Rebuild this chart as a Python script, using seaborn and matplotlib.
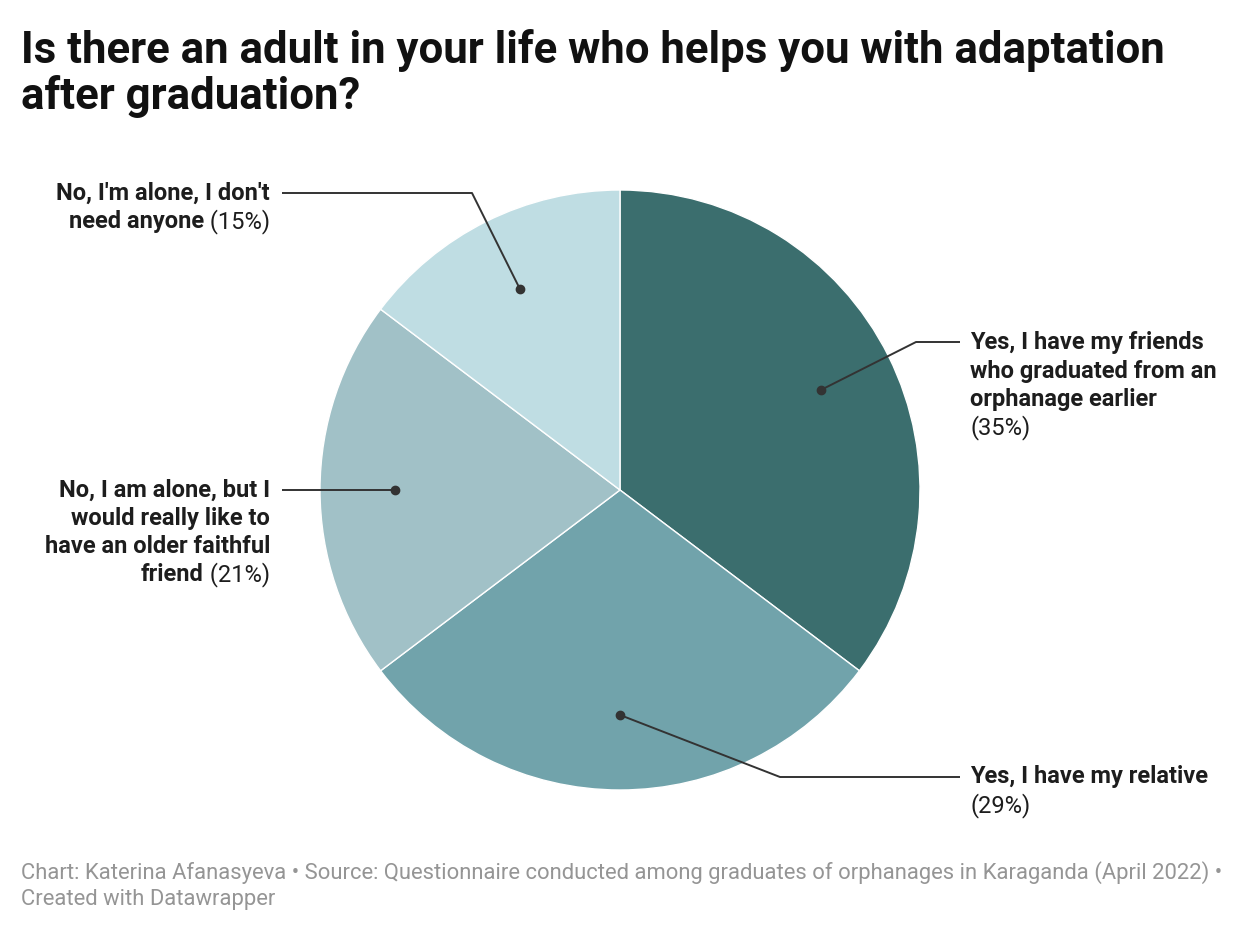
import matplotlib
matplotlib.use("Agg")
import matplotlib.pyplot as plt
import seaborn as sns
import numpy as np

# ---- data ----
categories = [
    "Yes, I have my friends who graduated from an orphanage earlier",
    "Yes, I have my relative",
    "No, I am alone, but I would really like to have an older faithful friend",
    "No, I'm alone, I don't need anyone",
]
counts = [12, 10, 7, 5]
pct_labels = ["(35%)", "(29%)", "(21%)", "(15%)"]
colors = ["#3b6e6e", "#71a3ab", "#a1c1c7", "#bfdde3"]

title_lines = ["Is there an adult in your life who helps you with adaptation",
               "after graduation?"]
footer1 = "Chart: Katerina Afanasyeva \u2022 Source: Questionnaire conducted among graduates of orphanages in Karaganda (April 2022) \u2022"
footer2 = "Created with Datawrapper"

sns.set_theme(style="white")
plt.rcParams["font.family"] = ["Roboto", "DejaVu Sans"]

W, H = 1240, 932
fig = plt.figure(figsize=(W / 100, H / 100), dpi=100)
ax = fig.add_axes([0, 0, 1, 1])

cx, cy, R = 620, 490, 300
wedges, _ = ax.pie(counts, colors=colors, startangle=-90, counterclock=True,
                   center=(cx, cy), radius=R,
                   wedgeprops=dict(edgecolor="white", linewidth=1))
ax.set_xlim(0, W)
ax.set_ylim(H, 0)
ax.set_aspect("auto")
ax.axis("off")

# anchor dots at 0.75 R along mid angle
cum = np.cumsum([0] + counts)
tot = sum(counts)
dots = []
for i in range(len(counts)):
    mid = -90 + 360 * (cum[i] + cum[i + 1]) / 2 / tot
    t = np.deg2rad(mid)
    dots.append((cx + 0.75 * R * np.cos(t), cy + 0.75 * R * np.sin(t)))

line_c = "#333333"
txt_c = "#1d1d1d"
fs = 17
lh = 28.3

# leader line layouts (elbow, end)
leaders = [
    [(916, 342), (960, 342)],
    [(780, 777), (960, 777)],
    [(282, 490)],
    [(472, 193), (282, 193)],
]
for (dx, dy), pts in zip(dots, leaders):
    xs = [dx] + [p[0] for p in pts]
    ys = [dy] + [p[1] for p in pts]
    ax.plot(xs, ys, color=line_c, lw=1.4, solid_capstyle="butt")
    ax.plot(dx, dy, "o", color=line_c, ms=6)

fig.canvas.draw()
renderer = fig.canvas.get_renderer()

def text_width(s, weight):
    t = ax.text(0, 0, s, fontsize=fs, fontweight=weight)
    w = t.get_window_extent(renderer).width
    t.remove()
    return w

# right-side labels (left aligned)
right_lines = {
    0: (["Yes, I have my friends", "who graduated from an", "orphanage earlier"], 343),
    1: (["Yes, I have my relative"], 777),
}
for i, (lines, y0) in right_lines.items():
    for k, s in enumerate(lines):
        ax.text(970, y0 + k * lh, s, fontsize=fs, fontweight="bold", color=txt_c,
                ha="left", va="center")
    ax.text(970, y0 + len(lines) * lh, pct_labels[i], fontsize=fs, color=txt_c,
            ha="left", va="center")

# left-side labels (right aligned), percentage on last line
left_lines = {
    2: (["No, I am alone, but I", "would really like to", "have an older faithful", "friend"], 490),
    3: (["No, I'm alone, I don't", "need anyone"], 193),
}
xr = 270
for i, (lines, y0) in left_lines.items():
    for k, s in enumerate(lines):
        y = y0 + k * lh
        if k == len(lines) - 1:
            pw = text_width(" " + pct_labels[i], "normal")
            ax.text(xr, y, " " + pct_labels[i], fontsize=fs, color=txt_c,
                    ha="right", va="center")
            ax.text(xr - pw, y, s, fontsize=fs, fontweight="bold", color=txt_c,
                    ha="right", va="center")
        else:
            ax.text(xr, y, s, fontsize=fs, fontweight="bold", color=txt_c,
                    ha="right", va="center")

# title
for k, s in enumerate(title_lines):
    fig.text(21 / W, 1 - (63 + 46 * k) / H, s, fontsize=31.5, fontweight="bold",
             color="#111111", ha="left", va="baseline")

# footer
fig.text(21 / W, 1 - 873 / H, footer1, fontsize=15.8, color="#959595", ha="left", va="center")
fig.text(21 / W, 1 - 899 / H, footer2, fontsize=15.8, color="#959595", ha="left", va="center")

fig.savefig("out.png", dpi=100, facecolor="white")
